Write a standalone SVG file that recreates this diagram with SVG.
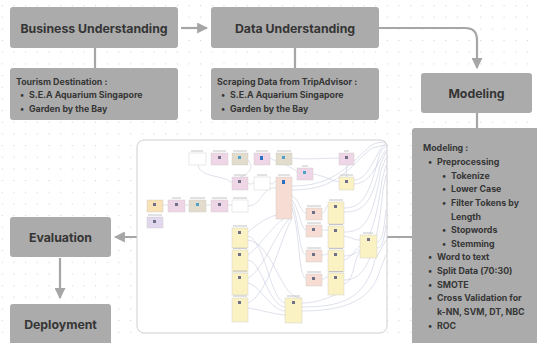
<svg xmlns="http://www.w3.org/2000/svg" width="537" height="343" viewBox="0 0 537 343">
<defs>
<pattern id="dots" x="1.7" y="5" width="11.67" height="11.67" patternUnits="userSpaceOnUse">
<circle cx="0.6" cy="0.6" r="0.65" fill="#d6d6d6"/>
</pattern>
<marker id="ahb" viewBox="0 0 10 10" refX="9" refY="5" markerWidth="11" markerHeight="11" orient="auto" markerUnits="userSpaceOnUse">
<path d="M0,0 L10,5 L0,10 z" fill="#a6a6a6"/>
</marker>
<style>
.box{fill:#ababab;}
.title{font-family:Inter,"Liberation Sans",sans-serif;font-weight:700;font-size:12.3px;fill:#353535;text-anchor:middle;}
.sub{font-family:Inter,"Liberation Sans",sans-serif;font-weight:700;font-size:8.8px;fill:#363636;}
.conn{stroke:#a6a6a6;stroke-width:2.2;fill:none;}
.op{stroke:#c9c9c9;stroke-width:0.4;}
.w{fill:#ffffff;}.p{fill:#efd6e6;}.t{fill:#e3dccd;}.s{fill:#f7dcd3;}.y{fill:#faf2c2;}.u{fill:#e2d8ee;}.o{fill:#f8e2b6;}
.lab{fill:#c4c4c4;}
.ic{fill:#6f6f8a;}
.wire{stroke:#b8bdd5;stroke-width:0.45;fill:none;}
</style>
</defs>
<rect width="537" height="343" fill="#ffffff"/>
<rect width="537" height="343" fill="url(#dots)"/>

<g id="connectors">
<line class="conn" x1="181" y1="28" x2="207" y2="28" marker-end="url(#ahb)"/>
<path class="conn" d="M379,28 H465 Q477,28 477,40 V68" marker-end="url(#ahb)"/>
<line class="conn" x1="95" y1="48" x2="95" y2="68"/>
<line class="conn" x1="295" y1="48" x2="295" y2="68"/>
<line class="conn" x1="477" y1="113" x2="477" y2="129"/>
<line class="conn" x1="412" y1="237" x2="115" y2="237" marker-end="url(#ahb)"/>
<line class="conn" x1="60" y1="258" x2="60" y2="298" marker-end="url(#ahb)"/>
</g>

<g id="business-understanding">
<rect class="box" x="10" y="7" width="168" height="41" rx="3"/>
<text class="title" x="94" y="32.5">Business Understanding</text>
</g>
<g id="tourism-destination">
<rect class="box" x="10" y="68" width="168" height="52" rx="3"/>
<text class="sub" x="16" y="84.5">Tourism Destination :</text>
<text class="sub" x="20" y="98">•</text><text class="sub" x="29" y="98">S.E.A Aquarium Singapore</text>
<text class="sub" x="20" y="111.5">•</text><text class="sub" x="29" y="111.5">Garden by the Bay</text>
</g>
<g id="data-understanding">
<rect class="box" x="211" y="7" width="168" height="41" rx="3"/>
<text class="title" x="295" y="32.5">Data Understanding</text>
</g>
<g id="scraping-data">
<rect class="box" x="211" y="68" width="168" height="52" rx="3"/>
<text class="sub" x="217" y="84.5">Scraping Data from TripAdvisor :</text>
<text class="sub" x="221" y="98">•</text><text class="sub" x="230" y="98">S.E.A Aquarium Singapore</text>
<text class="sub" x="221" y="111.5">•</text><text class="sub" x="230" y="111.5">Garden by the Bay</text>
</g>
<g id="modeling">
<rect class="box" x="421" y="73" width="111" height="40" rx="3"/>
<text class="title" x="476.5" y="97.5">Modeling</text>
</g>
<g id="modeling-details">
<rect class="box" x="412" y="128" width="130" height="220" rx="3"/>
<text class="sub" x="423" y="151">Modeling :</text>
<text class="sub" x="428" y="165">•</text><text class="sub" x="437" y="165">Preprocessing</text>
<text class="sub" x="442" y="178.5">•</text><text class="sub" x="451" y="178.5">Tokenize</text>
<text class="sub" x="442" y="192">•</text><text class="sub" x="451" y="192">Lower Case</text>
<text class="sub" x="442" y="206">•</text><text class="sub" x="451" y="206">Filter Tokens by</text>
<text class="sub" x="451" y="219.5">Length</text>
<text class="sub" x="442" y="233">•</text><text class="sub" x="451" y="233">Stopwords</text>
<text class="sub" x="442" y="246.5">•</text><text class="sub" x="451" y="246.5">Stemming</text>
<text class="sub" x="428" y="260">•</text><text class="sub" x="437" y="260">Word to text</text>
<text class="sub" x="428" y="274">•</text><text class="sub" x="437" y="274">Split Data (70:30)</text>
<text class="sub" x="428" y="287.5">•</text><text class="sub" x="437" y="287.5">SMOTE</text>
<text class="sub" x="428" y="301">•</text><text class="sub" x="437" y="301">Cross Validation for</text>
<text class="sub" x="437" y="315">k-NN, SVM, DT, NBC</text>
<text class="sub" x="428" y="328.5">•</text><text class="sub" x="437" y="328.5">ROC</text>
</g>
<g id="evaluation">
<rect class="box" x="10" y="217" width="101" height="40" rx="3"/>
<text class="title" x="60.5" y="241.5">Evaluation</text>
</g>
<g id="deployment">
<rect class="box" x="10" y="304" width="101" height="42" rx="3"/>
<text class="title" x="60.5" y="329">Deployment</text>
</g>

<g id="process-screenshot">
<rect x="137" y="140" width="250" height="193" rx="7" fill="#ffffff" stroke="#cfcfcf" stroke-width="1"/>
<g id="wires">
<path class="wire" d="M198,165 C200,178 225,175 232,183"/>
<path class="wire" d="M248,160 C256,168 246,176 240,177"/>
<path class="wire" d="M248,183 C252,186 252,182 254,183"/>
<path class="wire" d="M270,183 C274,186 274,181 276,181"/>
<path class="wire" d="M270,158 C276,162 290,165 297,172"/>
<path class="wire" d="M292,158 C300,160 330,158 339,158"/>
<path class="wire" d="M313,174 C325,176 330,180 339,182"/>
<path class="wire" d="M163,205 H168 M185,205 H189 M206,205 H211 M228,205 H232"/>
<path class="wire" d="M248,206 C262,206 262,186 276,188"/>
<path class="wire" d="M292,186 C330,186 345,170 370,146 C375,143 380,142 386,142"/>
<path class="wire" d="M292,190 C340,190 350,165 372,148 L386,145"/>
<path class="wire" d="M292,196 C300,200 300,212 306,213"/>
<path class="wire" d="M292,200 C300,210 300,228 306,230"/>
<path class="wire" d="M292,204 C300,220 298,252 306,255"/>
<path class="wire" d="M292,208 C300,230 298,276 306,279"/>
<path class="wire" d="M292,212 C270,214 260,222 248,232"/>
<path class="wire" d="M292,214 C275,220 262,245 248,255"/>
<path class="wire" d="M292,216 C276,230 264,270 248,278"/>
<path class="wire" d="M292,218 C280,240 268,295 248,303"/>
<path class="wire" d="M322,213 C326,213 325,206 328,206"/>
<path class="wire" d="M322,230 C326,230 325,230 328,230"/>
<path class="wire" d="M322,255 C326,255 325,254 328,254"/>
<path class="wire" d="M322,279 C326,279 325,277 328,277"/>
<path class="wire" d="M344,208 C360,208 368,200 378,160 C380,150 384,147 386,147"/>
<path class="wire" d="M344,212 C362,212 372,205 380,165 L386,152"/>
<path class="wire" d="M344,232 C362,232 372,225 381,170 L386,158"/>
<path class="wire" d="M344,236 C355,238 352,240 360,240"/>
<path class="wire" d="M344,256 C362,256 374,240 382,180 L386,165"/>
<path class="wire" d="M344,260 C352,258 354,250 360,246"/>
<path class="wire" d="M344,280 C364,280 376,260 383,190 L386,175"/>
<path class="wire" d="M344,284 C354,282 354,258 360,252"/>
<path class="wire" d="M377,242 C382,242 384,230 386,210"/>
<path class="wire" d="M377,248 C382,248 384,240 386,225"/>
<path class="wire" d="M248,236 C265,240 270,300 285,303"/>
<path class="wire" d="M248,260 C262,262 268,305 285,307"/>
<path class="wire" d="M248,283 C260,285 270,310 285,311"/>
<path class="wire" d="M248,308 C262,310 272,314 285,315"/>
<path class="wire" d="M302,303 C320,303 330,296 344,292"/>
<path class="wire" d="M302,307 C340,307 365,300 375,260 L386,240"/>
<path class="wire" d="M302,311 C345,311 372,300 380,270 L386,255"/>
<path class="wire" d="M248,240 C275,245 280,300 302,298"/>
<path class="wire" d="M347,165 C346,170 346,174 347,177"/>
<path class="wire" d="M354,180 C370,180 376,150 386,143"/>
<path class="wire" d="M354,184 C372,184 378,160 386,150"/>
</g>
<g id="operators">
<rect class="lab" x="191" y="150.5" width="12" height="1"/>
<rect class="op w" x="189" y="153" width="17" height="12"/>
<rect class="lab" x="213" y="150.5" width="13" height="1"/>
<rect class="op p" x="211" y="153" width="17" height="12"/><rect class="ic" x="218" y="156" width="3" height="3"/>
<rect class="lab" x="233" y="150.5" width="14" height="1"/>
<rect class="op t" x="232" y="153" width="16" height="12"/><rect x="238" y="156" width="3" height="3" fill="#4fa3c8"/>
<rect class="lab" x="256" y="150.5" width="12" height="1"/>
<rect class="op p" x="254" y="153" width="16" height="12"/><rect x="260" y="156" width="3" height="4" fill="#2f6fc0"/>
<rect class="lab" x="277" y="150.5" width="14" height="1"/>
<rect class="op t" x="276" y="153" width="16" height="12"/><rect x="282" y="156" width="3" height="3" fill="#4fa3c8"/>
<rect class="lab" x="302" y="165.5" width="6" height="1"/>
<rect class="op p" x="297" y="168" width="16" height="12"/><rect x="303" y="171" width="3" height="3" fill="#4fa3c8"/>
<rect class="lab" x="344" y="150.5" width="5" height="1"/>
<rect class="op p" x="339" y="153" width="15" height="12"/><rect class="ic" x="345" y="156" width="3" height="3"/>

<rect class="lab" x="234" y="174.5" width="12" height="1"/>
<rect class="op p" x="232" y="177" width="16" height="13"/><rect class="ic" x="238" y="180" width="3" height="3"/>
<rect class="lab" x="257" y="174.5" width="10" height="1"/>
<rect class="op w" x="254" y="177" width="16" height="13"/>
<rect class="lab" x="278" y="174.5" width="12" height="1"/>
<rect class="op s" x="276" y="177" width="16" height="42"/><rect x="282" y="180" width="3" height="4" fill="#2f6fc0"/>
<rect class="lab" x="340" y="174.5" width="13" height="1"/>
<rect class="op y" x="339" y="177" width="15" height="13"/><rect class="ic" x="345" y="180" width="3" height="3"/>

<rect class="op o" x="147" y="200" width="16" height="12"/><rect class="ic" x="153" y="203" width="3" height="3"/>
<rect class="lab" x="172" y="197.5" width="9" height="1"/>
<rect class="op p" x="168" y="200" width="17" height="12"/><rect class="ic" x="175" y="203" width="3" height="3"/>
<rect class="lab" x="190" y="197.5" width="15" height="1"/>
<rect class="op t" x="189" y="200" width="17" height="12"/><rect x="196" y="203" width="3" height="3" fill="#4fa3c8"/>
<rect class="lab" x="212" y="197.5" width="15" height="1"/>
<rect class="op p" x="211" y="200" width="17" height="12"/><rect class="ic" x="218" y="203" width="3" height="3"/>
<rect class="lab" x="233" y="197.5" width="14" height="1"/>
<rect class="op w" x="232" y="200" width="16" height="12"/>
<rect class="lab" x="148" y="214.5" width="14" height="1"/>
<rect class="op u" x="147" y="217" width="16" height="11"/><rect class="ic" x="153" y="220" width="3" height="3"/>

<rect class="lab" x="233" y="225.5" width="14" height="1"/>
<rect class="op y" x="232" y="228" width="16" height="20"/><rect class="ic" x="238" y="231" width="3" height="3"/>
<rect class="lab" x="233" y="247.8" width="14" height="1"/>
<rect class="op y" x="232" y="250" width="16" height="22"/><rect class="ic" x="238" y="253" width="3" height="3"/>
<rect class="lab" x="233" y="270.5" width="14" height="1"/>
<rect class="op y" x="232" y="273" width="16" height="22"/><rect class="ic" x="238" y="276" width="3" height="3"/>
<rect class="lab" x="233" y="295.5" width="14" height="1"/>
<rect class="op y" x="232" y="298" width="16" height="24"/><rect class="ic" x="238" y="301" width="3" height="3"/>

<rect class="lab" x="307" y="205.5" width="14" height="1"/>
<rect class="op s" x="306" y="208" width="16" height="12"/><rect class="ic" x="312" y="211" width="3" height="3"/>
<rect class="lab" x="307" y="222.5" width="14" height="1"/>
<rect class="op s" x="306" y="225" width="16" height="12"/><rect class="ic" x="312" y="228" width="3" height="3"/>
<rect class="lab" x="307" y="247.5" width="14" height="1"/>
<rect class="op s" x="306" y="250" width="16" height="12"/><rect class="ic" x="312" y="253" width="3" height="3"/>
<rect class="lab" x="307" y="271.5" width="14" height="1"/>
<rect class="op s" x="306" y="274" width="16" height="12"/><rect class="ic" x="312" y="277" width="3" height="3"/>

<rect class="lab" x="329" y="199.5" width="14" height="1"/>
<rect class="op y" x="328" y="202" width="16" height="22"/><rect class="ic" x="334" y="205" width="3" height="3"/>
<rect class="lab" x="329" y="224" width="14" height="1"/>
<rect class="op y" x="328" y="226" width="16" height="22"/><rect class="ic" x="334" y="229" width="3" height="3"/>
<rect class="lab" x="329" y="248" width="14" height="1"/>
<rect class="op y" x="328" y="250" width="16" height="22"/><rect class="ic" x="334" y="253" width="3" height="3"/>
<rect class="lab" x="329" y="271" width="14" height="1"/>
<rect class="op y" x="328" y="273" width="16" height="22"/><rect class="ic" x="334" y="276" width="3" height="3"/>

<rect class="lab" x="363" y="232.5" width="10" height="1"/>
<rect class="op y" x="360" y="235" width="17" height="23"/><rect class="ic" x="367" y="238" width="3" height="3"/>
<rect class="lab" x="287" y="295.5" width="13" height="1"/>
<rect class="op y" x="285" y="298" width="17" height="25"/><rect class="ic" x="292" y="301" width="3" height="3"/>
</g>
</g>
</svg>
